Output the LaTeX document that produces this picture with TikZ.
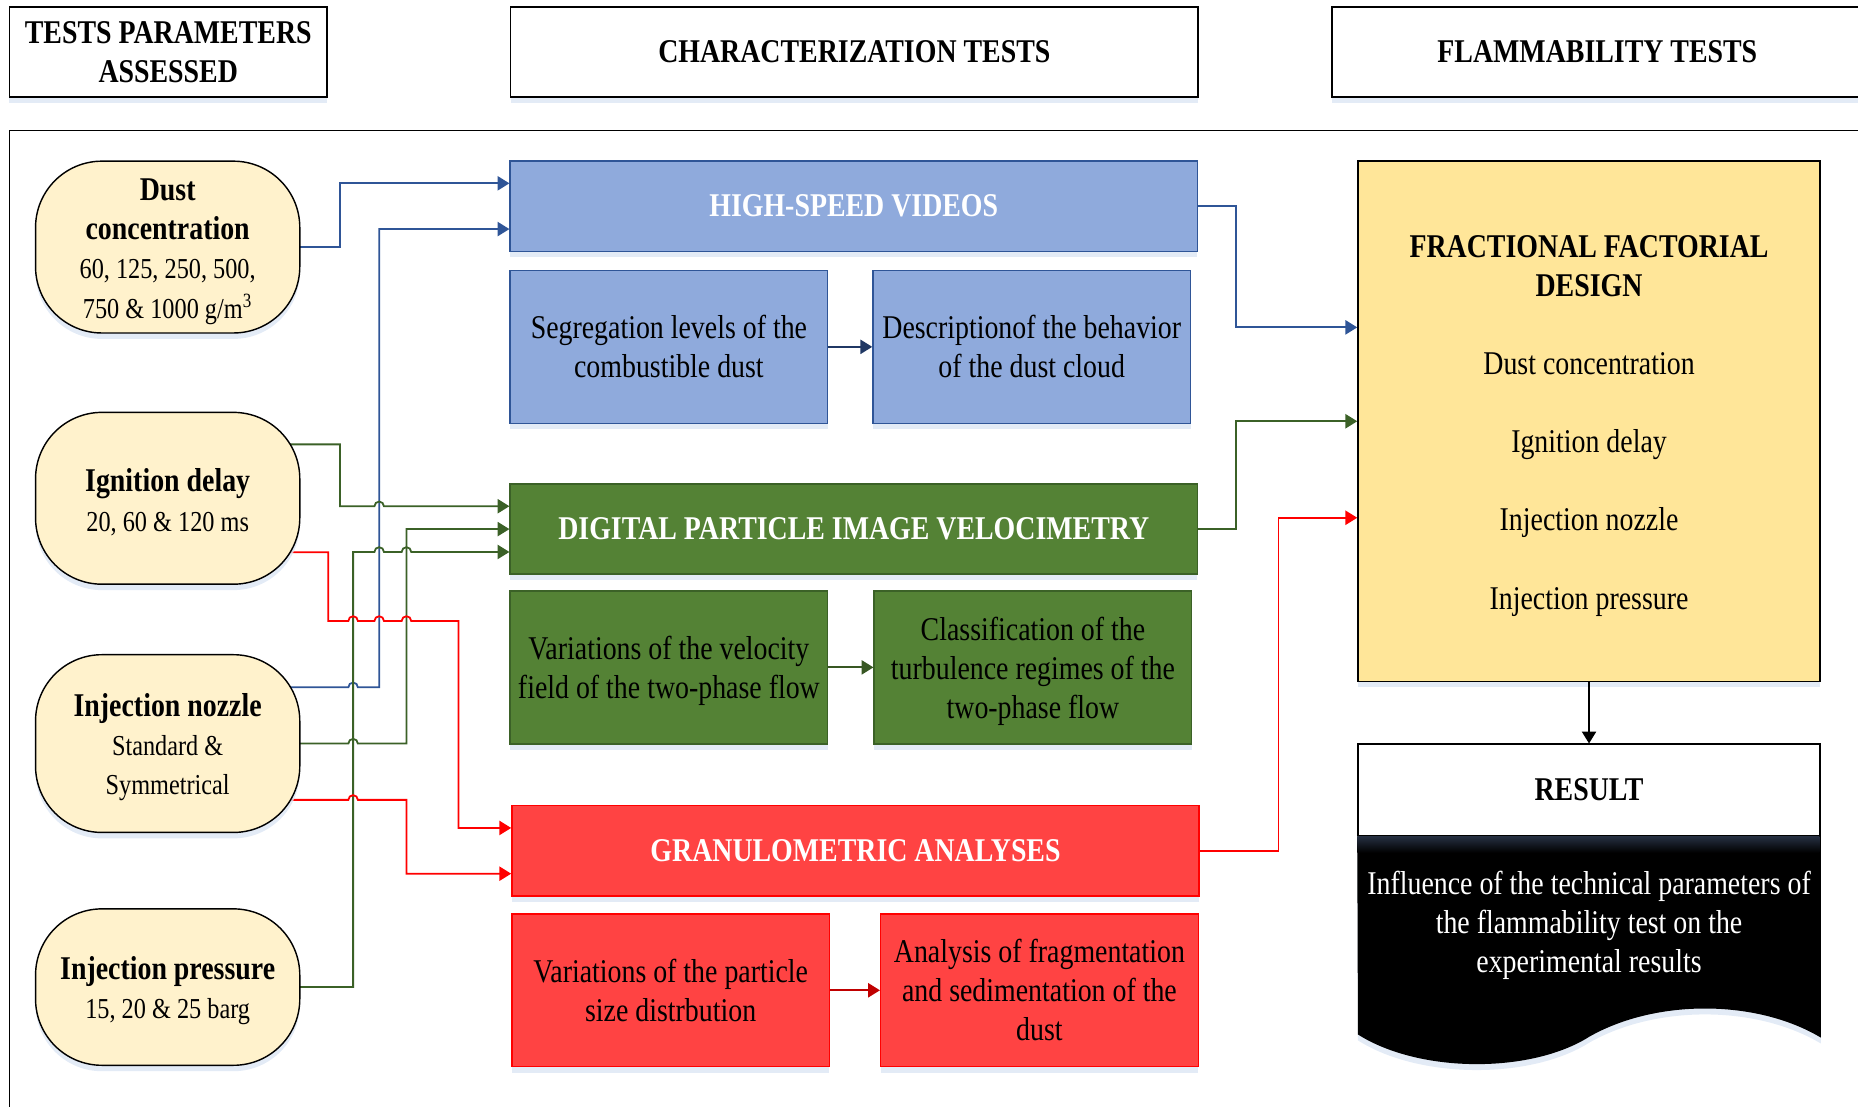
\documentclass[tikz,border=0pt]{standalone}
\usepackage{fontspec}
\setmainfont{Liberation Serif}[FakeStretch=0.84]
\usetikzlibrary{arrows.meta,positioning,backgrounds,shadows,calc}

\definecolor{cream}{HTML}{FFF2CC}
\definecolor{hsvfill}{HTML}{8FAADC}
\definecolor{hsvline}{HTML}{2F5597}
\definecolor{hsvdark}{HTML}{203864}
\definecolor{pivfill}{HTML}{548235}
\definecolor{pivline}{HTML}{3B6127}
\definecolor{pivdark}{HTML}{385723}
\definecolor{grafill}{HTML}{FF4343}
\definecolor{graline}{HTML}{FF0000}
\definecolor{gradark}{HTML}{C00000}
\definecolor{ffdfill}{HTML}{FFE699}
\definecolor{shadowblue}{HTML}{DCE6F4}
\newcommand\dsize{\fontsize{14}{16.5}\selectfont}
\newcommand\valsize{\fontsize{12.2}{16}\selectfont}
\newcommand\lift{\rule{0pt}{13pt}}

\begin{document}
\begin{tikzpicture}[x=0.5pt, y=-0.5pt, font=\dsize, line width=0.6pt,
    >={Triangle[length=5pt,width=6pt]},
    sh/.style={drop shadow={shadow xshift=0pt, shadow yshift=-2.5pt, fill=shadowblue, opacity=0.8}},
    hdr/.style={draw, fill=white, sh, align=center, font=\dsize\bfseries, minimum height=38pt, inner sep=0pt},
    prm/.style={draw, fill=cream, sh, rounded corners=28pt, minimum width=111.5pt, minimum height=72.5pt, align=center, inner sep=0pt},
    tst/.style={draw=#1line, fill=#1fill, sh, text=white, font=\dsize\bfseries, minimum width=290pt, minimum height=38pt, inner sep=0pt},
    sub/.style={draw=#1line, fill=#1fill, sh, align=center, minimum width=134pt, minimum height=64.5pt, inner sep=0pt},
    wire/.style={#1, line width=0.75pt, ->}]
  \useasboundingbox (0,0) rectangle (1568,934);

  % column heads
  \node[hdr, minimum width=134pt] (tpa) at (142,44) {TESTS PARAMETERS\\ASSESSED};
  \node[hdr, minimum width=290pt] (cht) at (721,44) {CHARACTERIZATION TESTS};
  \node[hdr, minimum width=224pt] (flt) at (1348,44) {FLAMMABILITY TESTS};
  \draw (8,110) rectangle (1600,960);

  % parameters
  \node[prm] (dust) at (141.5,208.5) {\lift\textbf{Dust}\\\textbf{concentration}\\{\valsize 60, 125, 250, 500,}\\{\valsize 750 \& 1000 g/m\textsuperscript{3}}};
  \node[prm] (ign) at (141.5,420.5) {\lift\textbf{Ignition delay}\\{\valsize 20, 60 \& 120 ms}};
  \node[prm, minimum height=75pt] (noz) at (141.5,627.5) {\lift\textbf{Injection nozzle}\\{\valsize Standard \&}\\{\valsize Symmetrical}};
  \node[prm, minimum height=66pt] (prs) at (141.5,833) {\lift\textbf{Injection pressure}\\{\valsize 15, 20 \& 25 barg}};

  % characterization tests
  \node[tst=hsv] (hsv) at (720.5,174) {HIGH-SPEED VIDEOS};
  \node[sub=hsv, below=7.5pt of hsv.south west, anchor=north west] (seg) {Segregation levels of the\\combustible dust};
  \node[sub=hsv, right=18.5pt of seg] (desc) {Descriptionof the behavior\\of the dust cloud};
  \draw[wire=hsvdark] (seg) -- (desc);

  \node[tst=piv] (piv) at (720.5,446.5) {DIGITAL PARTICLE IMAGE VELOCIMETRY};
  \node[sub=piv, below=6.5pt of piv.south west, anchor=north west] (vel) {\lift Variations of the velocity\\field of the two-phase flow};
  \node[sub=piv, right=19pt of vel] (cls) {\lift Classification of the\\turbulence regimes of the\\two-phase flow};
  \draw[wire=pivdark] (vel) -- (cls);

  \node[tst=gra] (gra) at (722,718) {GRANULOMETRIC ANALYSES};
  \node[sub=gra, below=7pt of gra.south west, anchor=north west] (psd) {Variations of the particle\\size distrbution};
  \node[sub=gra, right=21pt of psd] (frag) {Analysis of fragmentation\\and sedimentation of the\\dust};
  \draw[wire=gradark] (psd) -- (frag);

  % flammability tests
  \node[draw, fill=ffdfill, sh, align=center, minimum width=195pt, minimum height=219.5pt] (ffd) at (1341,355.5)
    {\lift\textbf{FRACTIONAL FACTORIAL}\\\textbf{DESIGN}\\[16.5pt]Dust concentration\\[16.5pt]Ignition delay\\[16.5pt]Injection nozzle\\[16.5pt]Injection pressure};
  \node[draw, fill=white, font=\dsize\bfseries, minimum width=195pt, minimum height=38.5pt, inner sep=0pt] (res) at (1341,666.5) {RESULT};
  \draw[->] (ffd) -- (res);
  \fill[black, sh] (res.south west) -- (res.south east) -- ++(0,170)
    .. controls (1482,843) and (1397,843) .. (1341,875)
    .. controls (1292,906) and (1198,906) .. (1146,873) -- cycle;
  \shade[top color={rgb,255:red,38;green,48;blue,66}, bottom color=black] (res.south west) rectangle ++(390,14);
  \node[text=white, align=center] (infl) at (1341,781) {Influence of the technical parameters of\\the flammability test on the\\experimental results};

  % entry points
  \coordinate (hsv1) at ($(hsv.north west)!.25!(hsv.south west)$);
  \coordinate (hsv3) at ($(hsv.north west)!.75!(hsv.south west)$);
  \coordinate (piv1) at ($(piv.north west)!.25!(piv.south west)$);
  \coordinate (piv3) at ($(piv.north west)!.75!(piv.south west)$);
  \coordinate (gra1) at ($(gra.north west)!.25!(gra.south west)$);
  \coordinate (gra3) at ($(gra.north west)!.75!(gra.south west)$);
  \coordinate (ffd1) at ($(ffd.north west)!.32!(ffd.south west)$);
  \coordinate (ffd3) at ($(ffd.north west)!.685!(ffd.south west)$);

  \begin{scope}[on background layer]
    \draw[wire=hsvline] (dust.center) -- (287,208.5) |- (hsv1);
    \draw[wire=hsvline] (noz.center) ++(0,-47.5) -- (294,580) arc[start angle=180, end angle=360, radius=4]
      -- (320,580) |- (hsv3);
    \draw[wire=hsvline] (hsv.east) -- (1043,174) |- (ffd1);

    \draw[wire=pivline] (ign.center) ++(0,-45.5) -- (287,375) -- (287,427.25)
      -- (316,427.25) arc[start angle=180, end angle=360, radius=4] -- (piv1);
    \draw[wire=pivline] (noz.center) -- (294,627.5) arc[start angle=180, end angle=360, radius=4]
      -- (343,627.5) |- (piv.west);
    \draw[wire=pivline] (prs.center) -- (298,833) -- (298,465.75)
      -- (316,465.75) arc[start angle=180, end angle=360, radius=4]
      -- (339,465.75) arc[start angle=180, end angle=360, radius=4] -- (piv3);
    \draw[wire=pivline] (piv.east) -- (1043,446.5) |- (ffd.west);

    \draw[wire=graline] (ign.center) ++(0,45.5) -- (277,466) -- (277,524)
      -- (294,524) arc[start angle=180, end angle=360, radius=4]
      -- (316,524) arc[start angle=180, end angle=360, radius=4]
      -- (339,524) arc[start angle=180, end angle=360, radius=4] -- (387,524) |- (gra1);
    \draw[wire=graline] (noz.center) ++(0,47.5) -- (294,675) arc[start angle=180, end angle=360, radius=4]
      -- (343,675) |- (gra3);
    \draw[wire=graline] (gra.east) -- (1079,718) |- (ffd3);
  \end{scope}
\end{tikzpicture}
\end{document}
